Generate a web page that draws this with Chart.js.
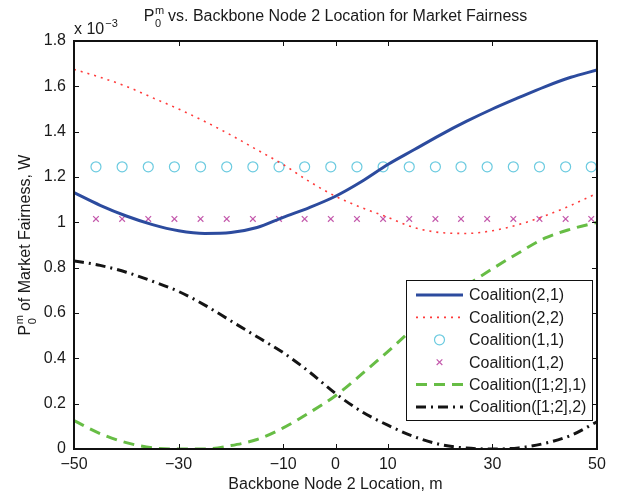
<!DOCTYPE html>
<html>
<head>
<meta charset="utf-8">
<script src="https://cdn.jsdelivr.net/npm/chart.js@4.4.1/dist/chart.umd.min.js"></script>
<style>
    html, body { margin: 0; padding: 0; background: #fff; }
    canvas { display: block; }
</style>
</head>
<body>
<canvas id="grafico-fairness" width="628" height="495"></canvas>
<script>
// backbone node 2 location (m), sampled every 5 m
const nodeLocation = [-50, -45, -40, -35, -30, -25, -20, -15, -10, -5, 0, 5, 10, 15, 20, 25, 30, 35, 40, 45, 50];

// P0^m values, in units of 1e-3 W
const coalition21 = [1.131, 1.075, 1.028, 0.990, 0.963, 0.951, 0.955, 0.977, 1.022, 1.065, 1.115, 1.180, 1.255, 1.320, 1.385, 1.445, 1.500, 1.550, 1.598, 1.640, 1.672];
const coalition22 = [1.675, 1.640, 1.600, 1.550, 1.500, 1.445, 1.385, 1.320, 1.255, 1.180, 1.115, 1.065, 1.022, 0.977, 0.955, 0.951, 0.963, 0.990, 1.028, 1.075, 1.128];
const coalition121 = [0.125, 0.068, 0.028, 0.005, 0.000, 0.000, 0.015, 0.042, 0.093, 0.160, 0.235, 0.330, 0.430, 0.535, 0.640, 0.720, 0.795, 0.865, 0.930, 0.970, 1.000];
const coalition122 = [0.830, 0.810, 0.780, 0.740, 0.695, 0.635, 0.565, 0.495, 0.425, 0.340, 0.245, 0.165, 0.105, 0.055, 0.020, 0.004, 0.000, 0.005, 0.025, 0.060, 0.120];

// the single-node coalitions are flat, drawn as markers only
const markerLocation = [-45.8, -40.8, -35.8, -30.8, -25.8, -20.8, -15.8, -10.8, -5.9, -0.9, 4.1, 9.1, 14.1, 19.1, 24.0, 29.0, 34.0, 39.0, 44.0, 48.9];
const coalition11 = [1.245, 1.245, 1.245, 1.245, 1.245, 1.245, 1.245, 1.245, 1.245, 1.245, 1.245, 1.245, 1.245, 1.245, 1.245, 1.245, 1.245, 1.245, 1.245, 1.245];
const coalition12 = [1.015, 1.015, 1.015, 1.015, 1.015, 1.015, 1.015, 1.015, 1.015, 1.015, 1.015, 1.015, 1.015, 1.015, 1.015, 1.015, 1.015, 1.015, 1.015, 1.015];

const xTicks = [-50, -30, -10, 0, 10, 30, 50];
const yTicks = [0, 0.2, 0.4, 0.6, 0.8, 1, 1.2, 1.4, 1.6, 1.8];

const FONT = "'Liberation Sans', Arial, sans-serif";
const TEXT_COLOR = '#1a1a1a';

function pairs(xs, ys) {
    return xs.map((x, i) => ({ x: x, y: ys[i] }));
}

function minusSign(v) {
    return v < 0 ? '\u2212' + Math.abs(v) : String(v);
}

const curveStyle = {
    pointRadius: 0,
    fill: false,
    cubicInterpolationMode: 'monotone'
};

const datasets = [
    Object.assign({
        label: 'Coalition(2,1)',
        data: pairs(nodeLocation, coalition21),
        borderColor: '#2c4b9e',
        borderWidth: 3
    }, curveStyle),
    Object.assign({
        label: 'Coalition(2,2)',
        data: pairs(nodeLocation, coalition22),
        borderColor: '#ff3b3b',
        borderWidth: 1.6,
        borderDash: [2, 5]
    }, curveStyle),
    {
        label: 'Coalition(1,1)',
        data: pairs(markerLocation, coalition11),
        showLine: false,
        pointStyle: 'circle',
        pointRadius: 5,
        pointBorderWidth: 1.2,
        pointBorderColor: '#6ccbe0',
        pointBackgroundColor: 'rgba(0,0,0,0)'
    },
    {
        label: 'Coalition(1,2)',
        data: pairs(markerLocation, coalition12),
        showLine: false,
        pointStyle: 'crossRot',
        pointRadius: 4,
        pointBorderWidth: 1.2,
        pointBorderColor: '#c45aac'
    },
    Object.assign({
        label: 'Coalition([1;2],1)',
        data: pairs(nodeLocation, coalition121),
        borderColor: '#67bd45',
        borderWidth: 3,
        borderDash: [11, 7]
    }, curveStyle),
    Object.assign({
        label: 'Coalition([1;2],2)',
        data: pairs(nodeLocation, coalition122),
        borderColor: '#141414',
        borderWidth: 3,
        borderDash: [10, 5, 2, 5]
    }, curveStyle)
];

// draws "P" with a stacked subscript 0 / superscript m, then the rest of the text
function drawPLabel(ctx, x, y, rest) {
    ctx.font = '16px ' + FONT;
    const pW = ctx.measureText('P').width;
    ctx.font = '11px ' + FONT;
    const scriptW = Math.max(ctx.measureText('m').width, ctx.measureText('0').width);
    ctx.font = '16px ' + FONT;
    const restW = ctx.measureText(rest).width;
    const total = pW + scriptW + restW;
    let cx = x - total / 2;
    ctx.textAlign = 'left';
    ctx.textBaseline = 'alphabetic';
    ctx.fillText('P', cx, y);
    cx += pW;
    ctx.font = '11px ' + FONT;
    ctx.fillText('m', cx + 0.5, y - 7);
    ctx.fillText('0', cx + 0.5, y + 6);
    cx += scriptW;
    ctx.font = '16px ' + FONT;
    ctx.fillText(rest, cx, y);
}

const matlabAxes = {
    id: 'matlabAxes',
    afterDraw(chart) {
        const ctx = chart.ctx;
        const area = chart.chartArea;
        const xs = chart.scales.x;
        const ys = chart.scales.y;
        ctx.save();

        // inward tick marks on all four sides
        ctx.strokeStyle = '#111';
        ctx.lineWidth = 1;
        ctx.beginPath();
        xTicks.forEach(v => {
            const px = Math.round(xs.getPixelForValue(v)) + 0.5;
            ctx.moveTo(px, area.bottom);
            ctx.lineTo(px, area.bottom - 5);
            ctx.moveTo(px, area.top);
            ctx.lineTo(px, area.top + 5);
        });
        yTicks.forEach(v => {
            const py = Math.round(ys.getPixelForValue(v)) + 0.5;
            ctx.moveTo(area.left, py);
            ctx.lineTo(area.left + 5, py);
            ctx.moveTo(area.right, py);
            ctx.lineTo(area.right - 5, py);
        });
        ctx.stroke();

        // box
        ctx.lineWidth = 2;
        ctx.strokeRect(area.left, area.top, area.right - area.left, area.bottom - area.top);

        ctx.fillStyle = TEXT_COLOR;

        // title
        drawPLabel(ctx, (area.left + area.right) / 2, 21, ' vs. Backbone Node 2 Location for Market Fairness');

        // exponent above the y axis
        ctx.font = '16px ' + FONT;
        ctx.textAlign = 'left';
        ctx.fillText('x 10', area.left, 34);
        const w10 = ctx.measureText('x 10').width;
        ctx.font = '11px ' + FONT;
        ctx.fillText('\u22123', area.left + w10 + 1, 27);

        // x axis title
        ctx.font = '16px ' + FONT;
        ctx.textAlign = 'center';
        ctx.fillText('Backbone Node 2 Location, m', (area.left + area.right) / 2, 489);

        // y axis title
        ctx.save();
        ctx.translate(30, (area.top + area.bottom) / 2);
        ctx.rotate(-Math.PI / 2);
        drawPLabel(ctx, 0, 0, ' of Market Fairness, W');
        ctx.restore();

        // legend
        const lx = 406, ly = 280, lw = 186, lh = 140;
        ctx.fillStyle = '#fff';
        ctx.fillRect(lx, ly, lw, lh);
        ctx.strokeStyle = '#111';
        ctx.lineWidth = 1;
        ctx.strokeRect(lx + 0.5, ly + 0.5, lw, lh);

        chart.data.datasets.forEach((ds, i) => {
            const rowY = ly + 15 + i * 22.4;
            const x0 = lx + 10, x1 = lx + 57;
            ctx.save();
            if (ds.showLine === false) {
                ctx.strokeStyle = ds.pointBorderColor;
                ctx.lineWidth = ds.pointBorderWidth;
                const mx = (x0 + x1) / 2, r = ds.pointRadius;
                ctx.beginPath();
                if (ds.pointStyle === 'circle') {
                    ctx.arc(mx, rowY, r, 0, Math.PI * 2);
                } else {
                    const d = r * Math.SQRT1_2;
                    ctx.moveTo(mx - d, rowY - d); ctx.lineTo(mx + d, rowY + d);
                    ctx.moveTo(mx - d, rowY + d); ctx.lineTo(mx + d, rowY - d);
                }
                ctx.stroke();
            } else {
                ctx.strokeStyle = ds.borderColor;
                ctx.lineWidth = ds.borderWidth;
                ctx.setLineDash(ds.borderDash || []);
                ctx.beginPath();
                ctx.moveTo(x0, rowY);
                ctx.lineTo(x1, rowY);
                ctx.stroke();
            }
            ctx.restore();
            ctx.fillStyle = TEXT_COLOR;
            ctx.font = '16px ' + FONT;
            ctx.textAlign = 'left';
            ctx.textBaseline = 'middle';
            ctx.fillText(ds.label, lx + 63, rowY + 1);
        });

        ctx.restore();
    }
};

const ctxFairness = document.getElementById('grafico-fairness');

const fairnessChart = new Chart(ctxFairness, {
    type: 'line',
    data: { datasets: datasets },
    plugins: [matlabAxes],
    options: {
        responsive: false,
        animation: false,
        devicePixelRatio: 1,
        layout: {
            padding: { top: 41, right: 31, left: 0, bottom: 0 }
        },
        plugins: {
            legend: { display: false },
            tooltip: { enabled: false }
        },
        scales: {
            x: {
                type: 'linear',
                min: -50,
                max: 50,
                afterBuildTicks: scale => { scale.ticks = xTicks.map(v => ({ value: v })); },
                afterFit: scale => { scale.height = 46; },
                grid: { display: false, drawTicks: false },
                border: { display: false },
                ticks: {
                    autoSkip: false,
                    maxRotation: 0,
                    padding: 6,
                    color: TEXT_COLOR,
                    font: { family: FONT, size: 16 },
                    callback: v => minusSign(v)
                }
            },
            y: {
                type: 'linear',
                min: 0,
                max: 1.8,
                afterBuildTicks: scale => { scale.ticks = yTicks.map(v => ({ value: v })); },
                afterFit: scale => { scale.width = 74; },
                grid: { display: false, drawTicks: false },
                border: { display: false },
                ticks: {
                    autoSkip: false,
                    padding: 8,
                    color: TEXT_COLOR,
                    font: { family: FONT, size: 16 },
                    callback: v => String(Number(v.toFixed(1)))
                }
            }
        }
    }
});
</script>
</body>
</html>
